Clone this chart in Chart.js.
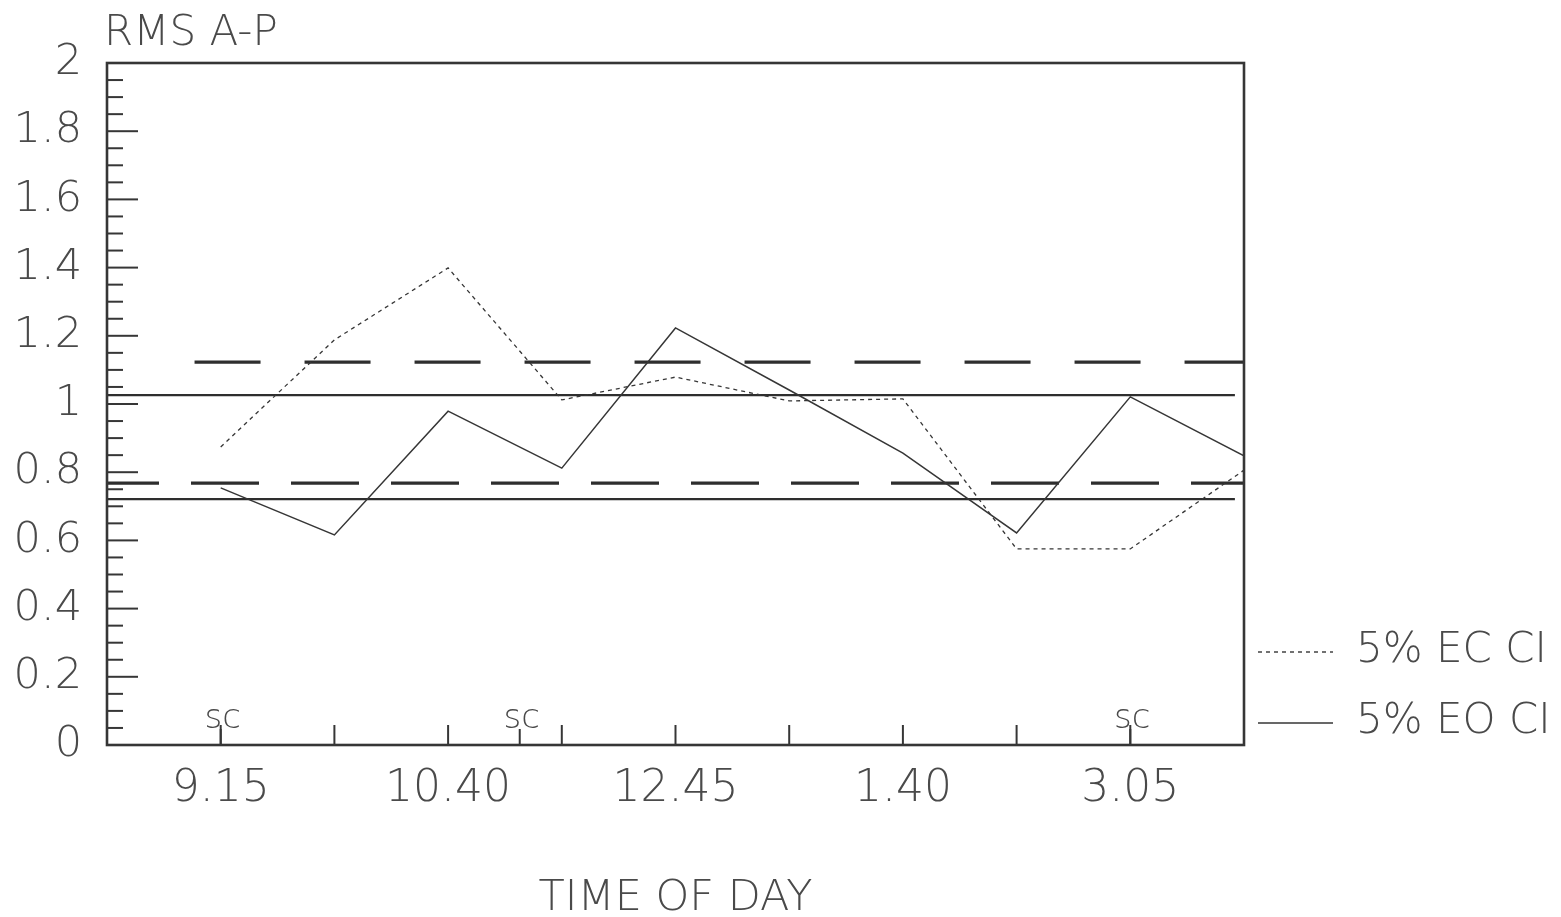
<!DOCTYPE html>
<html>
<head>
<title>RMS A-P</title>
<script src="https://cdn.jsdelivr.net/npm/chart.js"></script>
<style>
    body { margin: 0; background: #ffffff; }
    #wrap { width: 1561px; height: 917px; }
</style>
</head>
<body>
<div id="wrap"><canvas id="rmsChart" width="1561" height="917"></canvas></div>
<script>
// time slots along the x axis (1 = 9.15 ... 10 = right edge)
var slots = [1, 2, 3, 4, 5, 6, 7, 8, 9, 10];
var timeLabels = ['9.15', '10.40', '12.45', '1.40', '3.05'];
var labelSlots = [1, 3, 5, 7, 9];
var tickSlots = [1, 2, 3, 4, 5, 6, 7, 8, 9];
var scSlots = [1, 3.63, 9];

// measured RMS values
var ecValues = [0.874, 1.188, 1.399, 1.012, 1.079, 1.009, 1.015, 0.575, 0.575, 0.806];
var eoValues = [0.754, 0.616, 0.979, 0.812, 1.223, 1.041, 0.856, 0.622, 1.021, 0.848];

// confidence limits (dashed = EC, solid = EO)
var ecLimits = [1.123, 0.768];
var ecLimitStart = [0.77, 0];
var eoLimits = [1.026, 0.721];
var eoLimitEnd = 9.92;

var legendLabels = ['5% EC CI', '5% EO CI'];

var ink = '#363636';
var textInk = '#4a4a4a';
var plotFont = "'DejaVu Sans', sans-serif";

function toPoints(values) {
    return values.map(function(v, i) { return { x: slots[i], y: v }; });
}

var datasets = [
    {
        label: legendLabels[0],
        data: toPoints(ecValues),
        borderColor: ink,
        borderWidth: 1.3,
        borderDash: [4, 4]
    },
    {
        label: legendLabels[1],
        data: toPoints(eoValues),
        borderColor: ink,
        borderWidth: 1.5
    }
];

ecLimits.forEach(function(v, i) {
    datasets.push({
        label: 'ec limit',
        data: [{ x: ecLimitStart[i], y: v }, { x: 10, y: v }],
        borderColor: '#2e2e2e',
        borderWidth: 3.2,
        borderDash: i === 0 ? [66, 44] : [68, 32],
        borderDashOffset: i === 0 ? 0 : 16
    });
});
eoLimits.forEach(function(v) {
    datasets.push({
        label: 'eo limit',
        data: [{ x: 0, y: v }, { x: eoLimitEnd, y: v }],
        borderColor: '#2e2e2e',
        borderWidth: 2.2
    });
});

// plotter style decorations: box, inner ticks, sc marks, titles, legend
var plotterDecor = {
    id: 'plotterDecor',
    afterDraw: function(chart) {
        var ctx = chart.ctx;
        var a = chart.chartArea;
        var xs = chart.scales.x;
        var ys = chart.scales.y;

        function seg(x1, y1, x2, y2) {
            ctx.beginPath();
            ctx.moveTo(x1, y1);
            ctx.lineTo(x2, y2);
            ctx.stroke();
        }

        ctx.save();
        ctx.strokeStyle = ink;
        ctx.lineWidth = 2;

        // y ticks pointing inward, every 0.05
        for (var i = 1; i < 40; i++) {
            var py = ys.getPixelForValue(i * 0.05);
            var len = (i % 4 === 0) ? 31 : 16;
            seg(a.left, py, a.left + len, py);
        }

        // x ticks pointing up
        tickSlots.forEach(function(s) {
            var px = xs.getPixelForValue(s);
            seg(px, a.bottom, px, a.bottom - 20);
        });

        // sc marks
        ctx.fillStyle = textInk;
        ctx.font = '200 34px ' + plotFont;
        ctx.textAlign = 'center';
        ctx.textBaseline = 'alphabetic';
        scSlots.forEach(function(s) {
            var px = xs.getPixelForValue(s);
            seg(px, a.bottom, px, a.bottom - 16);
            ctx.fillText('sc', px + 2, a.bottom - 17);
        });

        // box
        ctx.lineWidth = 2.6;
        ctx.strokeRect(a.left, a.top, a.right - a.left, a.bottom - a.top);

        // y title
        ctx.font = '200 42px ' + plotFont;
        ctx.textAlign = 'left';
        ctx.fillText('RMS A-P', a.left - 3, a.top - 18);

        // legend
        var legendY = [a.bottom - 93, a.bottom - 22];
        ctx.font = '200 42px ' + plotFont;
        ctx.textBaseline = 'middle';
        chart.data.datasets.slice(0, 2).forEach(function(ds, k) {
            ctx.lineWidth = 1.4;
            ctx.setLineDash(ds.borderDash || []);
            seg(a.right + 14, legendY[k], a.right + 89, legendY[k]);
            ctx.setLineDash([]);
            ctx.fillText(ds.label, a.right + 112, legendY[k] - 1);
        });
        ctx.restore();
    }
};

var ctx = document.getElementById('rmsChart').getContext('2d');
var rmsChart = new Chart(ctx, {
    type: 'line',
    data: { datasets: datasets },
    plugins: [plotterDecor],
    options: {
        responsive: false,
        animation: false,
        layout: { padding: { top: 63, right: 317, bottom: 0, left: 0 } },
        elements: {
            point: { radius: 0 },
            line: { tension: 0, borderCapStyle: 'butt' }
        },
        plugins: {
            legend: { display: false },
            tooltip: { enabled: false }
        },
        scales: {
            x: {
                type: 'linear',
                min: 0,
                max: 10,
                grid: { display: false },
                border: { display: false },
                afterBuildTicks: function(scale) {
                    scale.ticks = labelSlots.map(function(s) { return { value: s }; });
                },
                afterFit: function(scale) { scale.height = 172; },
                ticks: {
                    autoSkip: false,
                    maxRotation: 0,
                    padding: 10,
                    color: textInk,
                    font: { family: plotFont, size: 44, weight: '200' },
                    callback: function(value) {
                        return timeLabels[labelSlots.indexOf(value)];
                    }
                },
                title: {
                    display: true,
                    text: 'TIME OF DAY',
                    color: textInk,
                    font: { family: plotFont, size: 43, weight: '200' },
                    padding: { top: 0, bottom: -8 }
                }
            },
            y: {
                min: 0,
                max: 2,
                grid: { display: false },
                border: { display: false },
                afterFit: function(scale) { scale.width = 107; },
                ticks: {
                    stepSize: 0.2,
                    padding: 17,
                    color: textInk,
                    font: { family: plotFont, size: 43, weight: '200' },
                    callback: function(value) {
                        return String(Number(value.toFixed(1)));
                    }
                }
            }
        }
    }
});
</script>
</body>
</html>
